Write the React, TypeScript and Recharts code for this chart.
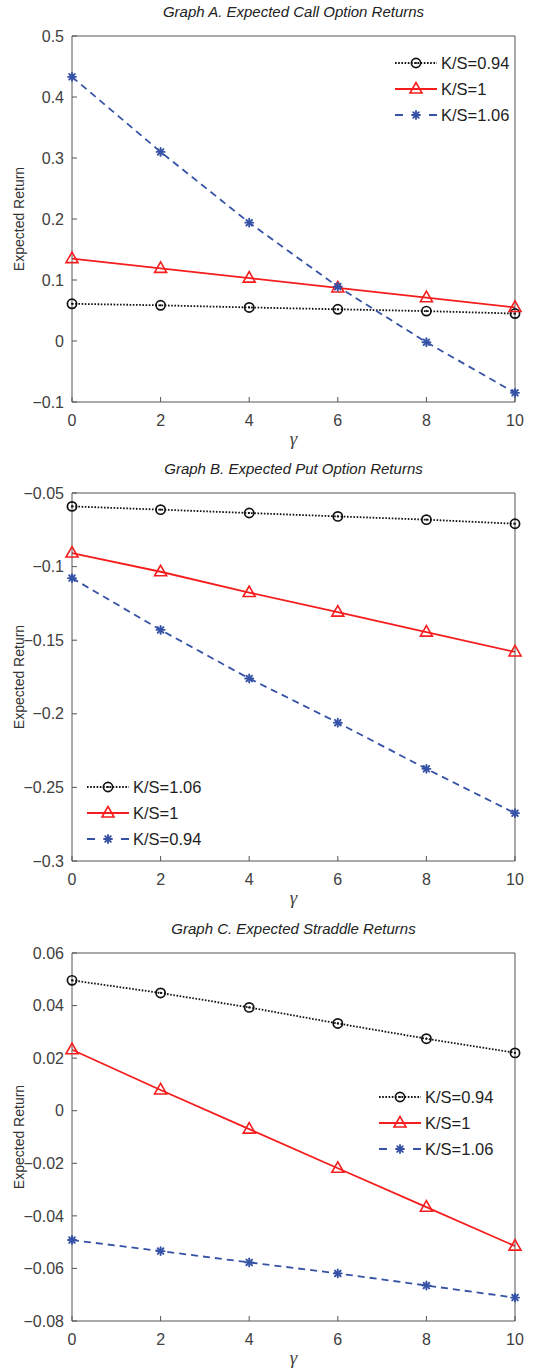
import { LineChart, Line, XAxis, YAxis, Legend } from 'recharts'

const gamma = [0, 2, 4, 6, 8, 10]
const xTicks = [0, 2, 4, 6, 8, 10]

// Graph A: call options
const callKS094 = [0.061, 0.0585, 0.055, 0.052, 0.049, 0.045]
const callKS1 = [0.135, 0.119, 0.103, 0.087, 0.071, 0.055]
const callKS106 = [0.433, 0.31, 0.194, 0.089, -0.002, -0.085]
const yTicksA = [-0.1, 0, 0.1, 0.2, 0.3, 0.4, 0.5]

// Graph B: put options
const putKS106 = [-0.0591, -0.0613, -0.0636, -0.0659, -0.0681, -0.0709]
const putKS1 = [-0.0908, -0.1035, -0.1176, -0.1309, -0.1445, -0.158]
const putKS094 = [-0.1078, -0.143, -0.176, -0.206, -0.2374, -0.2675]
const yTicksB = [-0.3, -0.25, -0.2, -0.15, -0.1, -0.05]

// Graph C: straddles
const stradKS094 = [0.0496, 0.0448, 0.0393, 0.0332, 0.0274, 0.022]
const stradKS1 = [0.0232, 0.0079, -0.007, -0.0219, -0.0367, -0.0515]
const stradKS106 = [-0.0492, -0.0534, -0.0577, -0.0619, -0.0665, -0.0711]
const yTicksC = [-0.08, -0.06, -0.04, -0.02, 0, 0.02, 0.04, 0.06]

const BLACK = '#111111'
const RED = '#f51d1d'
const BLUE = '#3552a6'
const AXIS = '#555555'
const TEXT = '#404040'
const FONT = '"Liberation Sans", Arial, Helvetica, sans-serif'

const dotted = { color: BLACK, dash: '1.6 1.6', legendDash: '1.6 1.6', marker: 'circle' }
const solid = { color: RED, dash: undefined, legendDash: undefined, marker: 'triangle' }
const dashed = { color: BLUE, dash: '7 5', legendDash: '8 26', marker: 'star' }

const panels = [
  {
    title: 'Graph A. Expected Call Option Returns',
    top: 0,
    height: 460,
    plotTop: 36,
    plotBottom: 402,
    yDomain: [-0.1, 0.5],
    yTicks: yTicksA,
    legend: { left: 395, top: 50 },
    series: [
      { key: 's1', name: 'K/S=0.94', values: callKS094, ...dotted },
      { key: 's2', name: 'K/S=1', values: callKS1, ...solid },
      { key: 's3', name: 'K/S=1.06', values: callKS106, ...dashed },
    ],
  },
  {
    title: 'Graph B. Expected Put Option Returns',
    top: 460,
    height: 460,
    plotTop: 493,
    plotBottom: 861,
    yDomain: [-0.3, -0.05],
    yTicks: yTicksB,
    legend: { left: 87, top: 314 },
    series: [
      { key: 's1', name: 'K/S=1.06', values: putKS106, ...dotted },
      { key: 's2', name: 'K/S=1', values: putKS1, ...solid },
      { key: 's3', name: 'K/S=0.94', values: putKS094, ...dashed },
    ],
  },
  {
    title: 'Graph C. Expected Straddle Returns',
    top: 920,
    height: 448,
    plotTop: 953,
    plotBottom: 1321,
    yDomain: [-0.08, 0.06],
    yTicks: yTicksC,
    legend: { left: 379, top: 164 },
    series: [
      { key: 's1', name: 'K/S=0.94', values: stradKS094, ...dotted },
      { key: 's2', name: 'K/S=1', values: stradKS1, ...solid },
      { key: 's3', name: 'K/S=1.06', values: stradKS106, ...dashed },
    ],
  },
]

function Marker({ type, cx, cy, color }: { type: string; cx: number; cy: number; color: string }) {
  if (type === 'circle') {
    return (
      <g>
        <circle cx={cx} cy={cy} r={4.6} fill="none" stroke={color} strokeWidth={1.7} />
        <circle cx={cx} cy={cy} r={1.1} fill={color} />
      </g>
    )
  }
  if (type === 'triangle') {
    return (
      <polygon
        points={`${cx},${cy - 6.5} ${cx - 6},${cy + 4} ${cx + 6},${cy + 4}`}
        fill="none"
        stroke={color}
        strokeWidth={1.6}
      />
    )
  }
  const r = 4
  const d = r * 0.7071
  return (
    <g stroke={color} strokeWidth={1.9} strokeLinecap="round">
      <line x1={cx - r} y1={cy} x2={cx + r} y2={cy} />
      <line x1={cx} y1={cy - r} x2={cx} y2={cy + r} />
      <line x1={cx - d} y1={cy - d} x2={cx + d} y2={cy + d} />
      <line x1={cx - d} y1={cy + d} x2={cx + d} y2={cy - d} />
    </g>
  )
}

const fmtY = (v: number) => (v < 0 ? '\u2212' + String(Math.abs(v)) : String(v))

function Panel({ cfg }: { cfg: any }) {
  const data = gamma.map((g, i) => {
    const row: any = { g }
    cfg.series.forEach((s: any) => {
      row[s.key] = s.values[i]
    })
    return row
  })
  const innerTop = cfg.plotTop - cfg.top
  const innerBottom = cfg.plotBottom - cfg.top
  const margin = { top: innerTop - 1, right: 32, bottom: cfg.height - innerBottom - 30, left: 12 }
  const plotMid = (innerTop + innerBottom) / 2
  const tickStyle = { fill: TEXT, fontSize: 16, fontFamily: FONT }

  const legendContent = () => (
    <div style={{ fontFamily: FONT, fontSize: 16.5, color: '#1e1e1e' }}>
      {cfg.series.map((s: any) => (
        <div key={s.key} style={{ display: 'flex', alignItems: 'center', height: 26 }}>
          <svg width={42} height={16} style={{ display: 'block' }}>
            <line x1={0} y1={8} x2={42} y2={8} stroke={s.color} strokeWidth={1.8} strokeDasharray={s.legendDash} />
            <Marker type={s.marker} cx={21} cy={8} color={s.color} />
          </svg>
          <span style={{ marginLeft: 4, whiteSpace: 'nowrap' }}>{s.name}</span>
        </div>
      ))}
    </div>
  )

  return (
    <div style={{ position: 'absolute', left: 0, top: cfg.top, width: 548, height: cfg.height }}>
      <LineChart width={548} height={cfg.height} data={data} margin={margin}>
        <XAxis
          dataKey="g"
          type="number"
          domain={[0, 10]}
          ticks={xTicks}
          height={30}
          stroke={AXIS}
          tickSize={-5}
          tickMargin={18}
          tick={tickStyle}
        />
        <XAxis
          xAxisId="top"
          dataKey="g"
          type="number"
          orientation="top"
          domain={[0, 10]}
          ticks={xTicks}
          height={1}
          stroke={AXIS}
          tickSize={-5}
          tick={false}
        />
        <YAxis
          type="number"
          domain={cfg.yDomain}
          ticks={cfg.yTicks}
          width={60}
          stroke={AXIS}
          tickSize={-5}
          tickMargin={13}
          tick={tickStyle}
          tickFormatter={fmtY}
        />
        <YAxis
          yAxisId="right"
          type="number"
          orientation="right"
          domain={cfg.yDomain}
          ticks={cfg.yTicks}
          width={1}
          stroke={AXIS}
          tickSize={-5}
          tick={false}
        />
        <Legend
          layout="vertical"
          align="center"
          verticalAlign="middle"
          content={legendContent}
          wrapperStyle={{ left: cfg.legend.left, top: cfg.legend.top, width: 'auto' }}
        />
        {cfg.series.map((s: any) => (
          <Line
            key={s.key}
            dataKey={s.key}
            name={s.name}
            type="linear"
            stroke={s.color}
            strokeWidth={1.8}
            strokeDasharray={s.dash}
            isAnimationActive={false}
            dot={(p: any) => (
              <g key={`${s.key}-${p.index}`}>
                <Marker type={s.marker} cx={p.cx} cy={p.cy} color={s.color} />
              </g>
            )}
            activeDot={false}
          />
        ))}
      </LineChart>
      <div
        style={{
          position: 'absolute',
          left: 72,
          width: 443,
          top: innerTop - 34,
          height: 20,
          lineHeight: '20px',
          textAlign: 'center',
          fontFamily: FONT,
          fontStyle: 'italic',
          fontSize: 15,
          color: '#222',
          whiteSpace: 'nowrap',
        }}
      >
        {cfg.title}
      </div>
      <div
        style={{
          position: 'absolute',
          left: 19,
          top: plotMid,
          transform: 'translate(-50%, -50%) rotate(-90deg)',
          fontFamily: FONT,
          fontSize: 14,
          color: '#333',
          whiteSpace: 'nowrap',
          lineHeight: '16px',
        }}
      >
        Expected Return
      </div>
      <div
        style={{
          position: 'absolute',
          left: 72,
          width: 443,
          top: innerBottom + 27,
          height: 20,
          lineHeight: '20px',
          textAlign: 'center',
          fontFamily: '"Liberation Serif", "DejaVu Serif", serif',
          fontStyle: 'italic',
          fontSize: 19,
          color: '#444',
        }}
      >
        γ
      </div>
    </div>
  )
}

export default function App() {
  return (
    <div style={{ position: 'absolute', left: 0, top: 0, width: 548, height: 1368, background: '#fff' }}>
      {panels.map((p) => (
        <Panel key={p.title} cfg={p} />
      ))}
    </div>
  )
}
